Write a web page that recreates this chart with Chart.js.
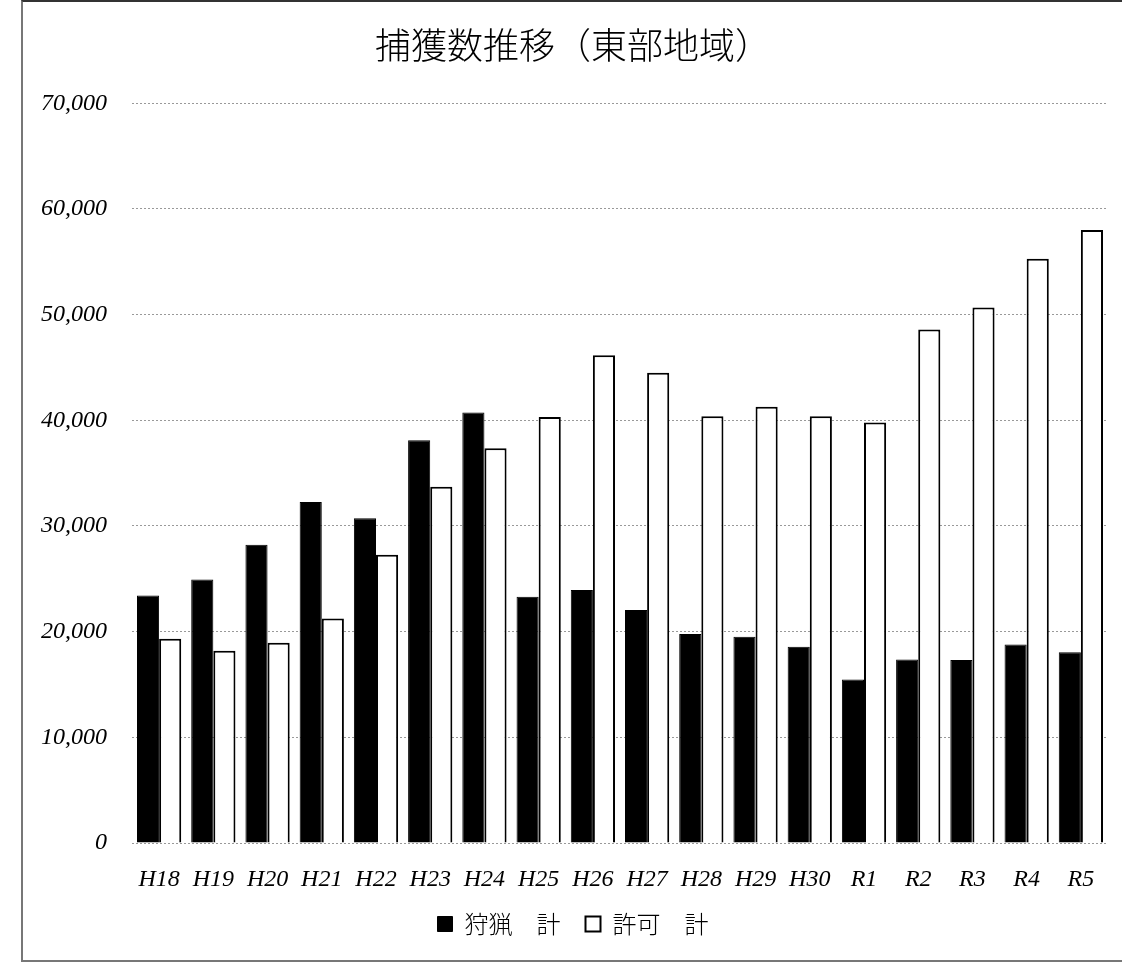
<!DOCTYPE html>
<html lang="ja">
<head>
<meta charset="utf-8">
<title>捕獲数推移（東部地域）</title>
<script src="https://cdn.jsdelivr.net/npm/chart.js@4.4.1/dist/chart.umd.min.js"></script>
<style>
  html, body { margin: 0; padding: 0; background: #fff; overflow: hidden; }
  #frame {
    position: absolute; left: 21px; top: 0px; width: 1110px; height: 962px;
    box-sizing: border-box;
    border-top: 2px solid #333; border-left: 2px solid #777; border-bottom: 2px solid #777;
  }
  #wrap { position: absolute; left: 0; top: 0; width: 1122px; height: 962px; }
</style>
</head>
<body>
<div id="frame"></div>
<div id="wrap"><canvas id="captureChart"></canvas></div>
<script>
const years = ['H18', 'H19', 'H20', 'H21', 'H22', 'H23', 'H24', 'H25', 'H26', 'H27',
  'H28', 'H29', 'H30', 'R1', 'R2', 'R3', 'R4', 'R5'];
const huntingTotal = [23420, 24940, 28230, 32270, 30720, 38110, 40730, 23300, 23940, 22040,
  19770, 19510, 18570, 15470, 17360, 17310, 18790, 18060];
const permitTotal = [19320, 18190, 18950, 21250, 27280, 33720, 37350, 40320, 46160, 44490,
  40380, 41270, 40380, 39780, 48590, 50680, 55290, 58000];
const yMax = 70000;
const yStep = 10000;

const serif = 'Liberation Serif, Times New Roman, serif';
const cjk = 'Noto Sans CJK JP, sans-serif';

const ctx = document.getElementById('captureChart').getContext('2d');
new Chart(ctx, {
  type: 'bar',
  data: {
    labels: years,
    datasets: [{
      label: '狩猟　計',
      data: huntingTotal,
      backgroundColor: '#000',
      borderColor: '#000',
      borderWidth: 1
    }, {
      label: '許可　計',
      data: permitTotal,
      backgroundColor: '#fff',
      borderColor: '#000',
      borderWidth: 2
    }]
  },
  options: {
    responsive: true,
    maintainAspectRatio: false,
    animation: false,
    categoryPercentage: 0.816,
    barPercentage: 1.0,
    // left padding a bit larger so title/legend sit where the reference has them
    layout: { padding: { left: 38, right: 14, top: 0, bottom: 16 } },
    plugins: {
      title: {
        display: true,
        text: '捕獲数推移（東部地域）',
        color: '#000',
        font: { family: cjk, size: 36, weight: 300 },
        padding: { top: 24, bottom: 36 }
      },
      legend: {
        position: 'bottom',
        labels: {
          color: '#000',
          font: { family: cjk, size: 24, weight: 300 },
          boxWidth: 15,
          boxHeight: 15,
          padding: 25
        }
      },
      tooltip: { enabled: false }
    },
    scales: {
      x: {
        grid: { display: false },
        border: { display: false },
        ticks: {
          color: '#000',
          padding: 14,
          maxRotation: 0,
          font: { family: serif, size: 24, style: 'italic' }
        },
        afterFit: (scale) => { scale.height = 44; }
      },
      y: {
        min: 0,
        max: yMax,
        border: { display: false, dash: [2, 2] },
        grid: {
          color: '#999',
          lineWidth: 1,
          drawTicks: false
        },
        ticks: {
          stepSize: yStep,
          color: '#000',
          padding: 25,
          font: { family: serif, size: 24, style: 'italic' },
          callback: (v) => v.toLocaleString('en-US')
        },
        afterFit: (scale) => { scale.width = 94; }
      }
    }
  }
});
</script>
</body>
</html>
